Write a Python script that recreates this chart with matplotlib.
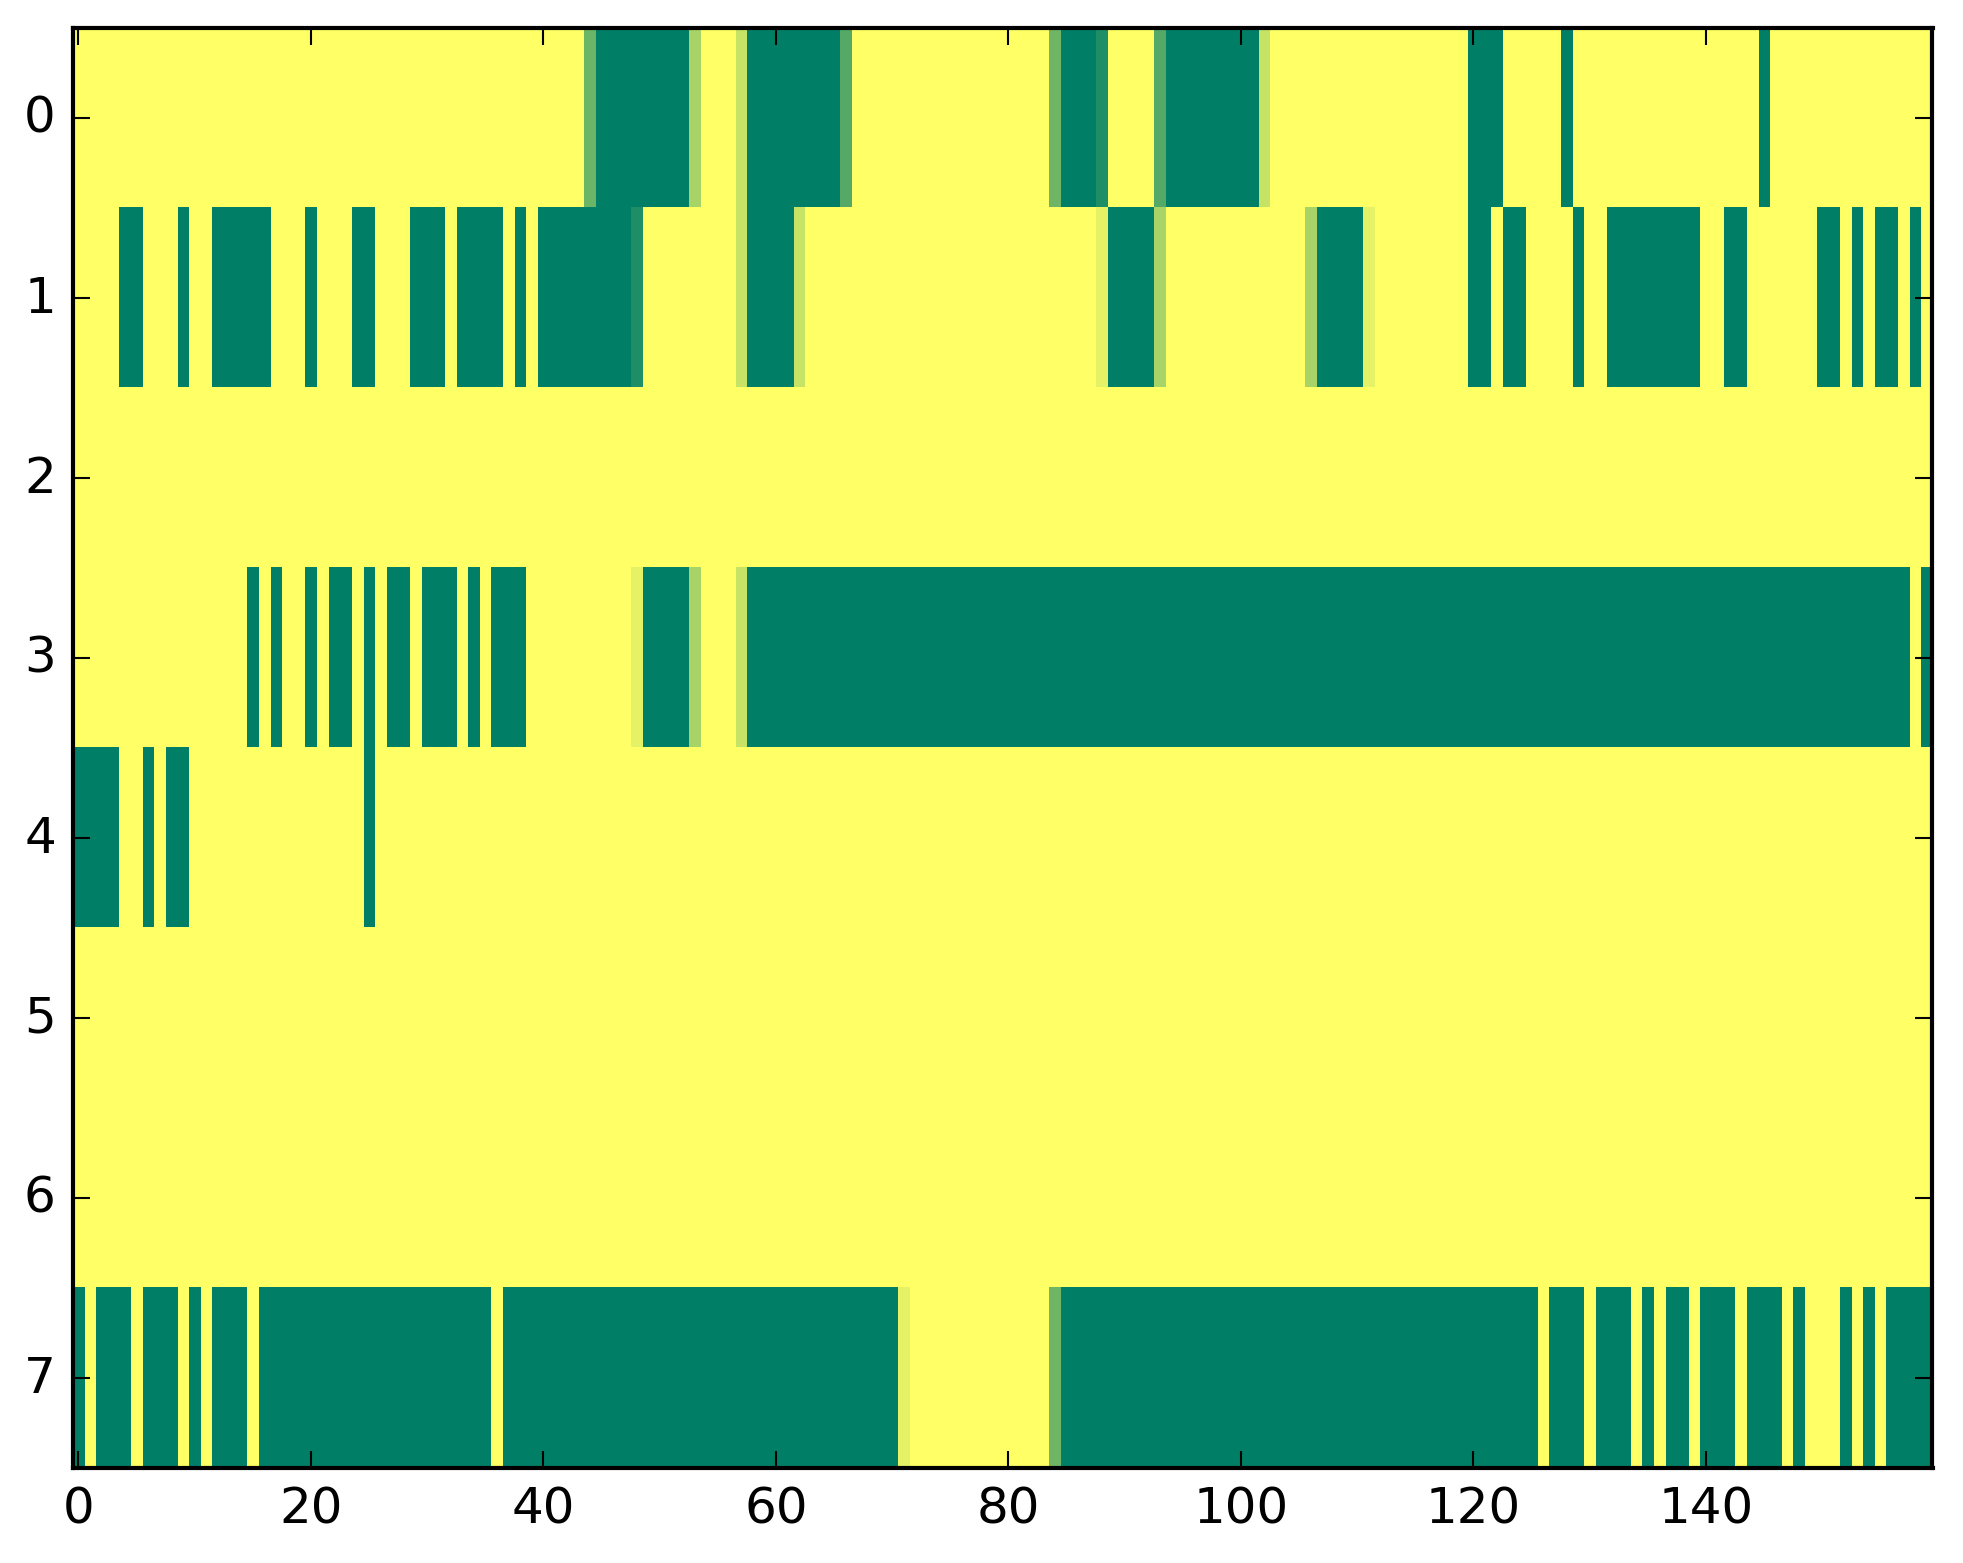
import numpy as np
import matplotlib
matplotlib.use("Agg")
import matplotlib.pyplot as plt

plt.style.use("classic")
plt.rcParams["font.family"] = ["DejaVu Sans"]

# ---- data: 8 rows x 160 columns (0 = yellow, 1 = green) ----
row0 = [0,0,0,0,0,0,0,0,0,0,0,0,0,0,0,0,0,0,0,0,
        0,0,0,0,0,0,0,0,0,0,0,0,0,0,0,0,0,0,0,0,
        0,0,0,0,0.58,1,1,1,1,1,1,1,1,0.34,0,0,0,0.22,1,1,
        1,1,1,1,1,1,0.67,0,0,0,0,0,0,0,0,0,0,0,0,0,
        0,0,0,0,0.57,1,1,1,0.88,0,0,0,0,0.67,1,1,1,1,1,1,
        1,1,0.22,0,0,0,0,0,0,0,0,0,0,0,0,0,0,0,0,0,
        1,1,1,0,0,0,0,0,1,0,0,0,0,0,0,0,0,0,0,0,
        0,0,0,0,0,1,0,0,0,0,0,0,0,0,0,0,0,0,0,0]
row1 = [0,0,0,0,1,1,0,0,0,1,0,0,1,1,1,1,1,0,0,0,
        1,0,0,0,1,1,0,0,0,1,1,1,0,1,1,1,1,0,1,0,
        1,1,1,1,1,1,1,1,0.88,0,0,0,0,0,0,0,0,0.22,1,1,
        1,1,0.22,0,0,0,0,0,0,0,0,0,0,0,0,0,0,0,0,0,
        0,0,0,0,0,0,0,0,0.1,1,1,1,1,0.34,0,0,0,0,0,0,
        0,0,0,0,0,0,0.34,1,1,1,1,0.1,0,0,0,0,0,0,0,0,
        1,1,0,1,1,0,0,0,0,1,0,0,1,1,1,1,1,1,1,1,
        0,0,1,1,0,0,0,0,0,0,1,1,0,1,0,1,1,0,1,0]
row2 = [0,0,0,0,0,0,0,0,0,0,0,0,0,0,0,0,0,0,0,0,
        0,0,0,0,0,0,0,0,0,0,0,0,0,0,0,0,0,0,0,0,
        0,0,0,0,0,0,0,0,0,0,0,0,0,0,0,0,0,0,0,0,
        0,0,0,0,0,0,0,0,0,0,0,0,0,0,0,0,0,0,0,0,
        0,0,0,0,0,0,0,0,0,0,0,0,0,0,0,0,0,0,0,0,
        0,0,0,0,0,0,0,0,0,0,0,0,0,0,0,0,0,0,0,0,
        0,0,0,0,0,0,0,0,0,0,0,0,0,0,0,0,0,0,0,0,
        0,0,0,0,0,0,0,0,0,0,0,0,0,0,0,0,0,0,0,0]
row3 = [0,0,0,0,0,0,0,0,0,0,0,0,0,0,0,1,0,1,0,0,
        1,0,1,1,0,1,0,1,1,0,1,1,1,0,1,0,1,1,1,0,
        0,0,0,0,0,0,0,0,0.1,1,1,1,1,0.34,0,0,0,0.22,1,1,
        1,1,1,1,1,1,1,1,1,1,1,1,1,1,1,1,1,1,1,1,
        1,1,1,1,1,1,1,1,1,1,1,1,1,1,1,1,1,1,1,1,
        1,1,1,1,1,1,1,1,1,1,1,1,1,1,1,1,1,1,1,1,
        1,1,1,1,1,1,1,1,1,1,1,1,1,1,1,1,1,1,1,1,
        1,1,1,1,1,1,1,1,1,1,1,1,1,1,1,1,1,1,0,1]
row4 = [1,1,1,1,0,0,1,0,1,1,0,0,0,0,0,0,0,0,0,0,
        0,0,0,0,0,1,0,0,0,0,0,0,0,0,0,0,0,0,0,0,
        0,0,0,0,0,0,0,0,0,0,0,0,0,0,0,0,0,0,0,0,
        0,0,0,0,0,0,0,0,0,0,0,0,0,0,0,0,0,0,0,0,
        0,0,0,0,0,0,0,0,0,0,0,0,0,0,0,0,0,0,0,0,
        0,0,0,0,0,0,0,0,0,0,0,0,0,0,0,0,0,0,0,0,
        0,0,0,0,0,0,0,0,0,0,0,0,0,0,0,0,0,0,0,0,
        0,0,0,0,0,0,0,0,0,0,0,0,0,0,0,0,0,0,0,0]
row5 = list(row2)
row6 = list(row2)
row7 = [1,0,1,1,1,0,1,1,1,0,1,0,1,1,1,0,1,1,1,1,
        1,1,1,1,1,1,1,1,1,1,1,1,1,1,1,1,0,1,1,1,
        1,1,1,1,1,1,1,1,1,1,1,1,1,1,1,1,1,1,1,1,
        1,1,1,1,1,1,1,1,1,1,1,0.1,0,0,0,0,0,0,0,0,
        0,0,0,0,0.57,1,1,1,1,1,1,1,1,1,1,1,1,1,1,1,
        1,1,1,1,1,1,1,1,1,1,1,1,1,1,1,1,1,1,1,1,
        1,1,1,1,1,1,0,1,1,1,0,1,1,1,0,1,0,1,1,0,
        1,1,1,0,1,1,1,0,1,0,0,0,1,0,1,0,1,1,1,1]

x_ticks = [0, 20, 40, 60, 80, 100, 120, 140]
y_ticks = [0, 1, 2, 3, 4, 5, 6, 7]

data = np.array([row0, row1, row2, row3, row4, row5, row6, row7], dtype=float)

W, H, DPI = 1963, 1564, 300
fig = plt.figure(figsize=(W / DPI, H / DPI), dpi=DPI, facecolor="white")
ax = fig.add_axes([72.5 / W, 1 - 1468.5 / H, (1932.5 - 72.5) / W, (1468.5 - 29) / H])
ax.imshow(data, cmap="summer_r", vmin=0, vmax=1, aspect="auto",
          interpolation="nearest")
ax.set_xticks(x_ticks)
ax.set_yticks(y_ticks)
ax.set_xlim(-0.5, data.shape[1] - 0.5)
ax.set_ylim(data.shape[0] - 0.5, -0.5)
ax.tick_params(labelsize=12)

fig.savefig("out.png", dpi=DPI, facecolor="white")
